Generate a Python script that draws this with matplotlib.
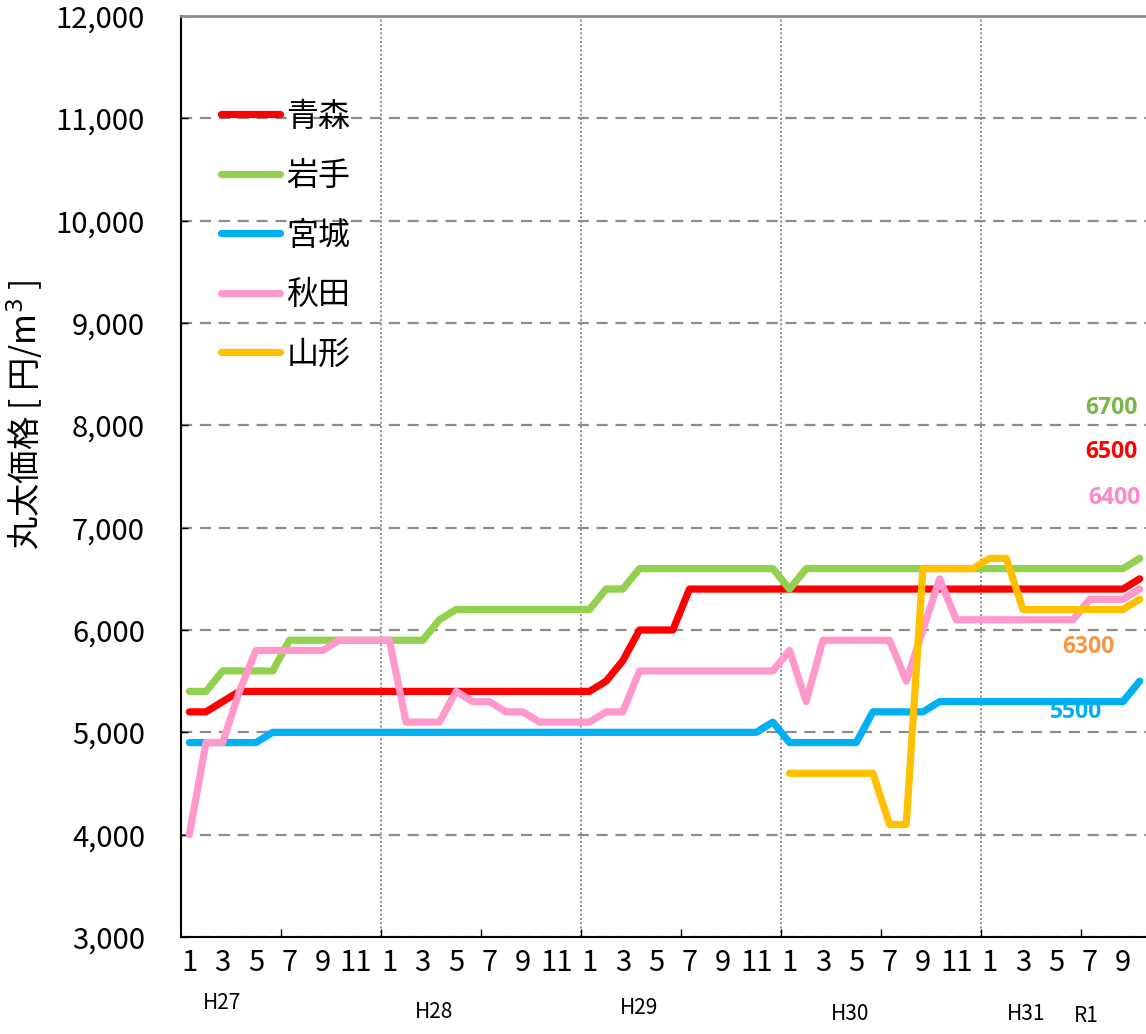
import matplotlib
matplotlib.use("Agg")
import matplotlib.pyplot as plt
import matplotlib.transforms as mtransforms
import numpy as np

# ---------------- data ----------------
years = ["H27", "H28", "H29", "H30", "H31", "R1"]
months = list(range(1, 13)) * 4 + list(range(1, 11))  # H27/1 .. R1/10

aomori = ([5200] * 2 + [5300] + [5400] * 22 + [5500, 5700] + [6000] * 3
          + [6400] * 27 + [6500])
iwate = ([5400] * 2 + [5600] * 4 + [5900] * 9 + [6100] + [6200] * 9
         + [6400] * 2 + [6600] * 9 + [6400] + [6600] * 20 + [6700])
miyagi = ([4900] * 5 + [5000] * 30 + [5100] + [4900] * 5 + [5200] * 4
          + [5300] * 12 + [5500])
akita = ([4000] + [4900] * 2 + [5400] + [5800] * 5 + [5900] * 4 + [5100] * 3
         + [5400] + [5300] * 2 + [5200] * 2 + [5100] * 4 + [5200] * 2
         + [5600] * 9 + [5800, 5300] + [5900] * 5 + [5500, 6000, 6500]
         + [6100] * 8 + [6300] * 3 + [6400])
yamagata = ([np.nan] * 36 + [4600] * 6 + [4100] * 2 + [6600] * 4
            + [6700] * 2 + [6200] * 7 + [6300])

series_names = ["青森", "岩手", "宮城", "秋田", "山形"]
series_values = [aomori, iwate, miyagi, akita, yamagata]
series_colors = ["#FF0000", "#92D050", "#00B0F0", "#FF99CC", "#FFC000"]

end_labels = ["6700", "6500", "6400", "6300", "5500"]
end_label_colors = ["#7AB648", "#FF0000", "#FF88C8", "#F79646", "#00B0F0"]
end_label_pos = [(55.3, 8171), (55.3, 7741), (55.5, 7291), (53.9, 5835), (53.2, 5199)]

year_label_pos = [(1.95, 1003), (14.7, 1012), (27.0, 1008), (39.6, 1014),
                  (50.2, 1014), (53.8, 1016)]

# ---------------- style ----------------
num_font = ["Liberation Sans Narrow", "Noto Sans CJK JP", "DejaVu Sans"]
jp_font = ["Noto Sans CJK JP", "DejaVu Sans"]
plt.rcParams["font.family"] = num_font

W, H = 1146, 1034
fig = plt.figure(figsize=(W / 100, H / 100), dpi=100)
left, right, top, bottom = 181, 1148, 16, 937
ax = fig.add_axes([left / W, 1 - bottom / H, (right - left) / W, (bottom - top) / H])

x = np.arange(len(months))
for name, vals, col in zip(series_names, series_values, series_colors):
    ax.plot(x, vals, color=col, lw=5.2, label=name,
            solid_capstyle="round", solid_joinstyle="round")

ax.set_xlim(-0.5, len(months) - 0.5)
ax.set_ylim(3000, 12000)

# y axis
yt = np.arange(3000, 12001, 1000)
ax.set_yticks(yt)
ax.set_yticklabels([f"{v:,}" for v in yt], fontsize=21)
ax.tick_params(axis="y", direction="in", length=5, width=1, pad=26)
ax.yaxis.grid(True, color="#8C8C8C", lw=1.6, ls=(0, (5, 3.5)))

# x axis
odd_idx = [i for i, m in enumerate(months) if m % 2 == 1]
ax.set_xticks(odd_idx)
ax.set_xticklabels([str(months[i]) for i in odd_idx], fontsize=21)
ax.tick_params(axis="x", which="major", length=0, pad=8)
ax.set_xticks(np.arange(5.5, len(months) - 1, 6), minor=True)
ax.tick_params(axis="x", which="minor", direction="in", length=6, width=1)
for b in np.arange(11.5, len(months) - 1, 12):
    ax.axvline(b, color="#8C8C8C", lw=1.4, ls=(0, (1, 1.2)), zorder=0.5)

for s in ["left", "bottom"]:
    ax.spines[s].set_color("black")
    ax.spines[s].set_linewidth(1.5)
ax.spines["top"].set_color("#8C8C8C")
ax.spines["top"].set_linewidth(2)
ax.spines["right"].set_visible(False)

# year labels below axis
trans = mtransforms.blended_transform_factory(ax.transData, fig.transFigure)
for yl, (px, py) in zip(years, year_label_pos):
    ax.text(px, 1 - py / H, yl, transform=trans, ha="center", va="center",
            fontsize=15, family=num_font)

# end value labels
for txt, col, (px, py) in zip(end_labels, end_label_colors, end_label_pos):
    ax.text(px, py, txt, color=col, fontsize=16.5, fontweight="bold",
            family=["Open Sans", "DejaVu Sans"], ha="center", va="center")

# y label
fig.text(25 / W, 1 - 415 / H, "丸太価格 [ 円/m$^3$ ]", rotation=90,
         ha="center", va="center", fontsize=24, family=jp_font)

# legend
leg = ax.legend(loc="upper left", bbox_to_anchor=(0.028, 0.922), frameon=False,
                prop={"family": jp_font, "size": 23}, handlelength=1.85,
                handletextpad=0.2, labelspacing=0.86, borderaxespad=0)

fig.savefig("out.png", dpi=100)
